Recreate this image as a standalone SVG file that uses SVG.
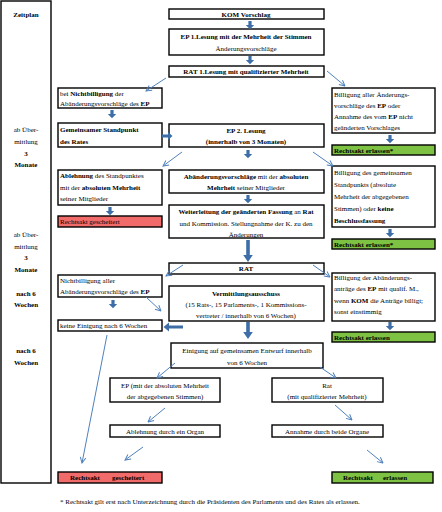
<svg xmlns="http://www.w3.org/2000/svg" width="442" height="512" viewBox="0 0 442 512">
<style>
.b{fill:#fff;stroke:#000;stroke-width:1.4}
.red{fill:#f26b6b;stroke:#000;stroke-width:1.4}
.grn{fill:#7dc242;stroke:#000;stroke-width:1.4}
text{font-family:"Liberation Serif","Times New Roman",serif;font-size:7px;fill:#000}
.c{text-anchor:middle}
.bo{font-weight:bold}
.ba{fill:#3d6ea8}
.ln{stroke:#4f81bd;stroke-width:1;fill:none;marker-end:url(#ah)}
</style>
<defs>
<marker id="ah" viewBox="0 0 10 10" refX="9" refY="5" markerWidth="7" markerHeight="7" orient="auto" markerUnits="userSpaceOnUse">
<path d="M1,1 L9,5 L1,9" fill="none" stroke="#4f81bd" stroke-width="1.4"/>
</marker>
<path id="da" d="M-1.6,0 h3.2 v4 h2.6 l-4.2,4.2 l-4.2,-4.2 h2.6 z"/>
</defs>

<g id="zeitplan">
<rect class="b" x="1" y="1" width="50" height="482"/>
<text class="c bo" x="26" y="17">Zeitplan</text>
<text class="c" x="26" y="132">ab Über-</text>
<text class="c" x="26" y="144">mittlung</text>
<text class="c bo" x="26" y="156">3</text>
<text class="c bo" x="26" y="167">Monate</text>
<text class="c" x="26" y="237">ab Über-</text>
<text class="c" x="26" y="249">mittlung</text>
<text class="c bo" x="26" y="260">3</text>
<text class="c bo" x="26" y="272">Monate</text>
<text class="c bo" x="26" y="296">nach 6</text>
<text class="c bo" x="26" y="307">Wochen</text>
<text class="c bo" x="26" y="353">nach 6</text>
<text class="c bo" x="26" y="365">Wochen</text>
</g>

<g id="kom">
<rect class="b" x="169" y="9" width="155" height="10"/>
<text class="c bo" x="246" y="17">KOM Vorschlag</text>
</g>
<g id="ep1">
<rect class="b" x="169" y="29" width="155" height="26"/>
<text class="c bo" x="246" y="39">EP 1.Lesung mit der Mehrheit der Stimmen</text>
<text class="c" x="246" y="51">Änderungsvorschläge</text>
</g>
<g id="rat1">
<rect class="b" x="169" y="66" width="155" height="11"/>
<text class="c bo" x="246" y="74">RAT 1.Lesung mit qualifizierter Mehrheit</text>
</g>
<g id="nichtbilligung1">
<rect class="b" x="58" y="88" width="104" height="20"/>
<text x="60" y="96">bei <tspan class="bo">Nichtbilligung</tspan> der</text>
<text x="60" y="106">Abänderungsvorschläge des <tspan class="bo">EP</tspan></text>
</g>
<g id="gemeinsamer">
<rect class="b" x="58" y="123" width="104" height="24"/>
<text class="bo" x="60" y="132">Gemeinsamer Standpunkt</text>
<text class="bo" x="60" y="144">des Rates</text>
</g>
<g id="ep2">
<rect class="b" x="169" y="124" width="155" height="23"/>
<text class="c bo" x="246" y="133">EP 2. Lesung</text>
<text class="c bo" x="246" y="144">(innerhalb von 3 Monaten)</text>
</g>
<g id="billigung1">
<rect class="b" x="332" y="88" width="103" height="45"/>
<text x="334" y="97">Billigung aller Änderungs-</text>
<text x="334" y="108">vorschläge des <tspan class="bo">EP</tspan> oder</text>
<text x="334" y="119">Annahme des vom <tspan class="bo">EP</tspan> nicht</text>
<text x="334" y="130">geänderten Vorschlages</text>
</g>
<g id="erlassen1">
<rect class="grn" x="332" y="145" width="103" height="10"/>
<text class="bo" x="334" y="153">Rechtsakt erlassen*</text>
</g>
<g id="ablehnung">
<rect class="b" x="58" y="170" width="104" height="35"/>
<text x="60" y="178"><tspan class="bo">Ablehnung</tspan> des Standpunktes</text>
<text x="60" y="190">mit der <tspan class="bo">absoluten Mehrheit</tspan></text>
<text x="60" y="201">seiner Mitglieder</text>
</g>
<g id="gescheitert1">
<rect class="red" x="58" y="216" width="104" height="11"/>
<text x="60" y="224">Rechtsakt gescheitert</text>
</g>
<g id="abaenderung">
<rect class="b" x="169" y="170" width="155" height="23"/>
<text class="c" x="246" y="179"><tspan class="bo">Abänderungsvorschläge</tspan> mit der <tspan class="bo">absoluten</tspan></text>
<text class="c" x="246" y="190"><tspan class="bo">Mehrheit</tspan> seiner Mitglieder</text>
</g>
<g id="weiterleitung">
<rect class="b" x="169" y="205" width="155" height="33"/>
<text class="c" x="246" y="214"><tspan class="bo">Weiterleitung der geänderten Fassung</tspan> an <tspan class="bo">Rat</tspan></text>
<text class="c" x="246" y="226">und Kommission. Stellungnahme der K. zu den</text>
<text class="c" x="246" y="237">Änderungen</text>
</g>
<g id="billigung2">
<rect class="b" x="332" y="166" width="103" height="61"/>
<text x="334" y="175">Billigung des gemeinsamen</text>
<text x="334" y="187">Standpunkts (absolute</text>
<text x="334" y="199">Mehrheit der abgegebenen</text>
<text x="334" y="211">Stimmen) oder <tspan class="bo">keine</tspan></text>
<text class="bo" x="334" y="223">Beschlussfassung</text>
</g>
<g id="erlassen2">
<rect class="grn" x="332" y="239" width="103" height="10"/>
<text class="bo" x="334" y="247">Rechtsakt erlassen*</text>
</g>
<g id="rat2">
<rect class="b" x="169" y="263" width="155" height="11"/>
<text class="c bo" x="246" y="271">RAT</text>
</g>
<g id="nichtbilligung2">
<rect class="b" x="58" y="275" width="104" height="22"/>
<text x="60" y="283">Nichtbilligung aller</text>
<text x="60" y="294">Abänderungsvorschläge des <tspan class="bo">EP</tspan></text>
</g>
<g id="vermittlung">
<rect class="b" x="169" y="286" width="155" height="35"/>
<text class="c bo" x="246" y="296">Vermittlungsausschuss</text>
<text class="c" x="246" y="307">(15 Rats-, 15 Parlaments-, 1 Kommissions-</text>
<text class="c" x="246" y="318">vertreter / innerhalb von 6 Wochen)</text>
</g>
<g id="billigung3">
<rect class="b" x="332" y="273" width="103" height="48"/>
<text x="334" y="280">Billigung der Abänderungs-</text>
<text x="334" y="291">anträge des <tspan class="bo">EP</tspan> mit qualif. M.,</text>
<text x="334" y="303">wenn <tspan class="bo">KOM</tspan> die Anträge billigt;</text>
<text x="334" y="314">sonst einstimmig</text>
</g>
<g id="erlassen3">
<rect class="grn" x="332" y="332" width="103" height="10"/>
<text class="bo" x="334" y="340">Rechtsakt erlassen</text>
</g>
<g id="keineeinigung">
<rect class="b" x="58" y="320" width="104" height="11"/>
<text x="60" y="328">keine Einigung nach 6 Wochen</text>
</g>
<g id="einigung">
<rect class="b" x="171" y="343" width="152" height="25"/>
<text class="c" x="247" y="353">Einigung auf gemeinsamen Entwurf innerhalb</text>
<text class="c" x="247" y="365">von 6 Wochen</text>
</g>
<g id="ep3">
<rect class="b" x="110" y="378" width="110" height="24"/>
<text class="c" x="165" y="388">EP (mit der absoluten Mehrheit</text>
<text class="c" x="165" y="399">der abgegebenen Stimmen)</text>
</g>
<g id="rat3">
<rect class="b" x="272" y="378" width="111" height="24"/>
<text class="c" x="327" y="388">Rat</text>
<text class="c" x="327" y="399">(mit qualifizierter Mehrheit)</text>
</g>
<g id="ablehnungorgan">
<rect class="b" x="110" y="425" width="110" height="12"/>
<text class="c" x="165" y="434">Ablehnung durch ein Organ</text>
</g>
<g id="annahme">
<rect class="b" x="272" y="425" width="111" height="12"/>
<text class="c" x="327" y="434">Annahme durch beide Organe</text>
</g>
<g id="gescheitert2">
<rect class="red" x="58" y="472" width="104" height="11"/>
<text class="bo" x="70" y="480">Rechtsakt</text>
<text class="bo" x="112" y="480">gescheitert</text>
</g>
<g id="erlassen4">
<rect class="grn" x="332" y="472" width="101" height="11"/>
<text class="bo" x="343" y="480">Rechtsakt</text>
<text class="bo" x="383" y="480">erlassen</text>
</g>
<g id="fussnote">
<text x="60" y="504">* Rechtsakt gilt erst nach Unterzeichnung durch die Präsidenten des Parlaments und des Rates als erlassen.</text>
</g>

<g id="connectors">
<use href="#da" class="ba" x="250" y="21"/>
<use href="#da" class="ba" x="250" y="56"/>
<use href="#da" class="ba" x="112" y="110"/>
<use href="#da" class="ba" x="248" y="150"/>
<use href="#da" class="ba" x="248" y="195"/>
<use href="#da" class="ba" x="110" y="207"/>
<use href="#da" class="ba" x="390" y="135"/>
<use href="#da" class="ba" x="390" y="229"/>
<use href="#da" class="ba" x="390" y="322"/>
<use href="#da" class="ba" x="113" y="300"/>
<path class="ba" d="M246.2,240 h3.6 v15 h3 l-4.8,7 l-4.8,-7 h3 z"/>
<path class="ba" d="M246.2,322 h3.6 v10 h3 l-4.8,7 l-4.8,-7 h3 z"/>
<path class="ba" d="M162,134.6 h6 v-2.6 l4.5,4 l-4.5,4 v-2.6 h-6 z"/>
<path class="ba" d="M183,325.4 h-14 v-2.8 l-5.5,4.4 l5.5,4.4 v-2.8 h14 z"/>
<line class="ln" x1="166" y1="78" x2="146" y2="91"/>
<line class="ln" x1="327" y1="71" x2="345" y2="86"/>
<line class="ln" x1="182" y1="152" x2="163" y2="166"/>
<line class="ln" x1="313" y1="152" x2="333" y2="166"/>
<line class="ln" x1="183" y1="265" x2="166" y2="276"/>
<line class="ln" x1="313" y1="265" x2="330" y2="277"/>
<line class="ln" x1="146" y1="297" x2="161" y2="311"/>
<line class="ln" x1="175" y1="363" x2="157" y2="378"/>
<line class="ln" x1="320" y1="367" x2="336" y2="378"/>
<line class="ln" x1="165" y1="408" x2="148" y2="422"/>
<line class="ln" x1="335" y1="405" x2="352" y2="420"/>
<line class="ln" x1="143" y1="447" x2="125" y2="460"/>
<line class="ln" x1="367" y1="450" x2="383" y2="463"/>
<line class="ln" x1="107" y1="335" x2="82" y2="463"/>
</g>
</svg>
